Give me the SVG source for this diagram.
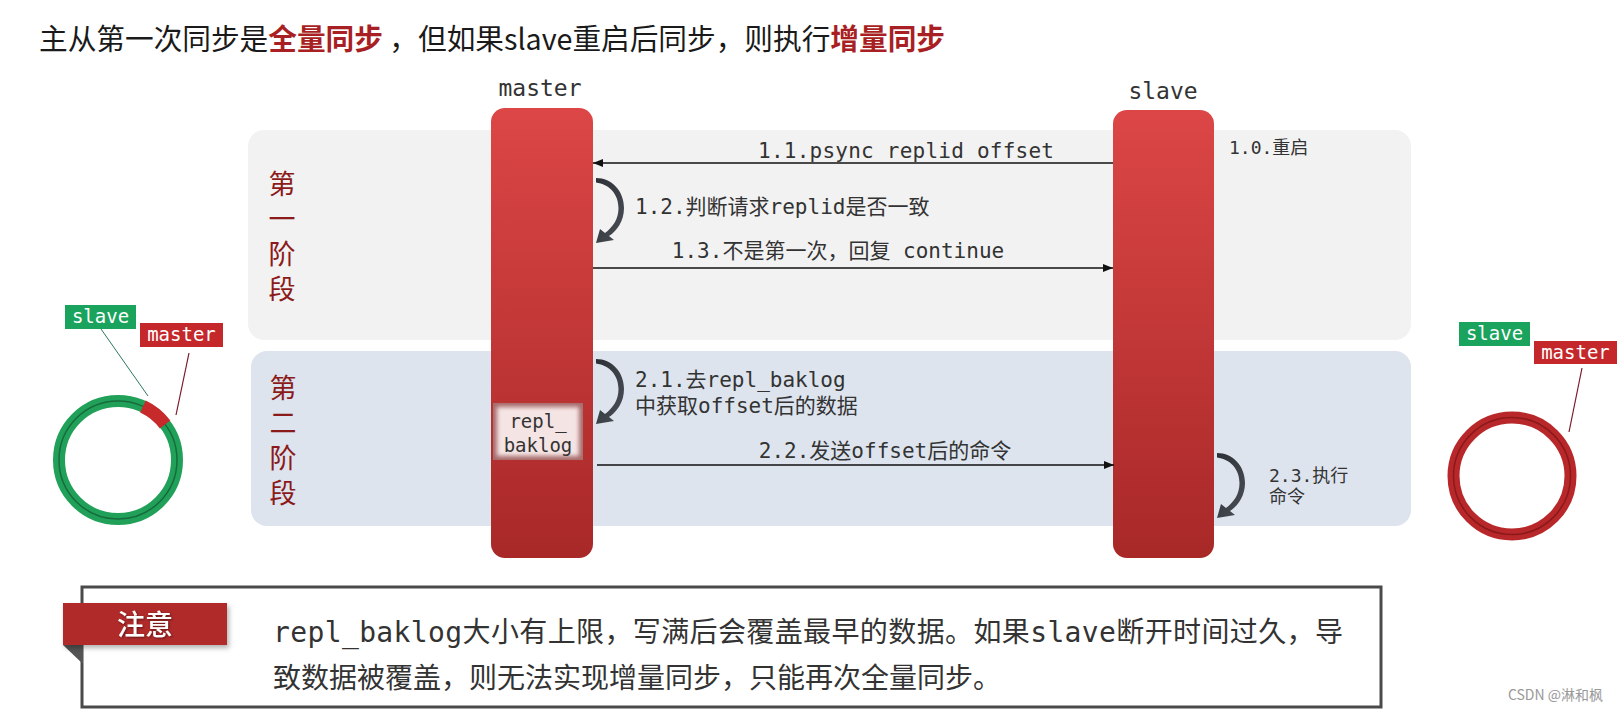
<svg xmlns="http://www.w3.org/2000/svg" width="1620" height="711" viewBox="0 0 1620 711">
<style>
.mono{font-family:"DejaVu Sans Mono","Noto Sans CJK SC",monospace;}
.cjk{font-family:"Noto Sans CJK SC","Noto Sans",sans-serif;}
.lbl{font-size:21px;fill:#333;}
.sm{font-size:18px;fill:#333;}
.phase{font-size:27px;fill:#8b1a1a;letter-spacing:8px;}
.tag{font-size:19px;fill:#fff;text-anchor:middle;}
.ln{stroke:#111;stroke-width:1.3;fill:none;}
</style>
<defs>
<linearGradient id="bar" x1="0" y1="0" x2="0" y2="1">
<stop offset="0" stop-color="#dc4646"/>
<stop offset="1" stop-color="#a82828"/>
</linearGradient>
<linearGradient id="curlg" x1="0" y1="0" x2="1" y2="1">
<stop offset="0" stop-color="#2c3036"/>
<stop offset="1" stop-color="#4b5057"/>
</linearGradient>
<marker id="ah" markerWidth="11" markerHeight="9" refX="10" refY="4" orient="auto" markerUnits="userSpaceOnUse">
<path d="M0,0 L10,4 L0,8 z" fill="#111"/>
</marker>
<path id="curl" d="M0,1 C16,1 28,14 28,31 C28,44 21,54 13,59 L18,63 L0,66 L4,52 L9,56 C17,50 22.5,42 22.5,31 C22.5,17 13,7 0,5.5 Z" fill="url(#curlg)"/>
<filter id="blur" x="-20%" y="-20%" width="140%" height="140%"><feGaussianBlur stdDeviation="2.2"/></filter>
<filter id="sh" x="-10%" y="-20%" width="130%" height="160%"><feDropShadow dx="2" dy="3" stdDeviation="2.5" flood-color="#000" flood-opacity="0.3"/></filter>
<filter id="tsh" x="-10%" y="-20%" width="130%" height="150%"><feDropShadow dx="1" dy="1" stdDeviation="0.8" flood-color="#000" flood-opacity="0.5"/></filter>
</defs>

<g id="title">
<text x="39" y="50" class="cjk" font-size="29" fill="#1a1a1a" textLength="906" lengthAdjust="spacingAndGlyphs">主从第一次同步是<tspan fill="#a81f24" font-weight="bold">全量同步</tspan> ，但如果slave重启后同步，则执行<tspan fill="#a81f24" font-weight="bold">增量同步</tspan></text>
</g>

<g id="phase1">
<rect x="248" y="130" width="1163" height="210" rx="16" fill="#f2f2f2"/>
<text class="cjk phase" x="282" y="170" writing-mode="vertical-rl">第一阶段</text>
</g>
<g id="phase2">
<rect x="251" y="351" width="1160" height="175" rx="16" fill="#dde4ee"/>
<text class="cjk phase" x="283" y="374" writing-mode="vertical-rl">第二阶段</text>
</g>

<g id="master">
<text class="mono" x="540" y="96" font-size="23" fill="#333" text-anchor="middle">master</text>
<rect x="491" y="108" width="102" height="450" rx="14" fill="url(#bar)"/>
</g>
<g id="slave">
<text class="mono" x="1163" y="99" font-size="23" fill="#333" text-anchor="middle">slave</text>
<rect x="1113" y="110" width="101" height="448" rx="14" fill="url(#bar)"/>
</g>

<g id="repl_baklog">
<rect x="493" y="403" width="90" height="57" fill="#a86c6c"/>
<rect x="497" y="407" width="82" height="49" fill="#f5e4e4" filter="url(#blur)"/>
<text class="mono" x="538" y="428" font-size="19" fill="#333" text-anchor="middle">repl_</text>
<text class="mono" x="538" y="452" font-size="19" fill="#333" text-anchor="middle">baklog</text>
</g>

<g id="connectors">
<path class="ln" d="M1113,163 L593,163" marker-end="url(#ah)"/>
<path class="ln" d="M593,268 L1113,268" marker-end="url(#ah)"/>
<path class="ln" d="M597,465 L1114,465" marker-end="url(#ah)"/>
<use href="#curl" x="596" y="177"/>
<use href="#curl" x="596" y="358"/>
<use href="#curl" x="1217" y="452"/>
</g>

<g id="labels">
<text class="mono lbl" x="906" y="158" text-anchor="middle" textLength="296">1.1.psync replid offset</text>
<text class="mono sm" x="1229" y="154">1.0.重启</text>
<text class="mono lbl" x="635" y="214">1.2.判断请求replid是否一致</text>
<text class="mono lbl" x="838" y="258" text-anchor="middle">1.3.不是第一次，回复 continue</text>
<text class="mono lbl" x="635" y="387">2.1.去repl_baklog</text>
<text class="mono lbl" x="635" y="413">中获取offset后的数据</text>
<text class="mono lbl" x="885" y="458" text-anchor="middle">2.2.发送offset后的命令</text>
<text class="mono sm" x="1269" y="482">2.3.执行</text>
<text class="mono sm" x="1269" y="503">命令</text>
</g>

<g id="ring-left">
<circle cx="118" cy="460" r="59" fill="none" stroke="#20a058" stroke-width="12"/>
<circle cx="118" cy="460" r="59" fill="none" stroke="#176b3c" stroke-width="1.5"/>
<path d="M142.9,406.5 A59,59 0 0 1 165.1,424.5" fill="none" stroke="#c62a2a" stroke-width="13"/>
<line x1="101" y1="329" x2="148" y2="396" stroke="#2a7a5a" stroke-width="1"/>
<line x1="189" y1="353" x2="176" y2="415" stroke="#7a1a2a" stroke-width="1.2"/>
<rect x="65" y="305" width="71" height="24" fill="#1aa35d"/>
<text class="mono tag" x="100.5" y="323">slave</text>
<rect x="140" y="323" width="83" height="24" fill="#c4282a"/>
<text class="mono tag" x="181.5" y="341">master</text>
</g>

<g id="ring-right">
<circle cx="1512" cy="476" r="58.5" fill="none" stroke="#b8282a" stroke-width="12"/>
<circle cx="1512" cy="476" r="58.5" fill="none" stroke="#8a1a1a" stroke-width="1.5"/>
<line x1="1582" y1="368" x2="1569" y2="432" stroke="#7a1a2a" stroke-width="1.2"/>
<rect x="1459" y="322" width="71" height="24" fill="#1aa35d"/>
<text class="mono tag" x="1494.5" y="340">slave</text>
<rect x="1534" y="341" width="83" height="23" fill="#c4282a"/>
<text class="mono tag" x="1575.5" y="359">master</text>
</g>

<g id="note">
<rect x="82" y="587" width="1299" height="120" fill="#fff" stroke="#4a4a4a" stroke-width="3"/>
<path d="M63,645 L83,645 L83,664 Z" fill="#555"/>
<rect x="63" y="603" width="164" height="42" fill="#b02a2a" filter="url(#sh)"/>
<text class="cjk" x="145" y="635" font-size="28" font-weight="500" fill="#fff" text-anchor="middle" filter="url(#tsh)">注意</text>
<text class="mono" x="273" y="642" font-size="28" fill="#333" textLength="1070">repl_baklog大小有上限，写满后会覆盖最早的数据。如果slave断开时间过久，导</text>
<text class="mono" x="273" y="688" font-size="28" fill="#333" textLength="728">致数据被覆盖，则无法实现增量同步，只能再次全量同步。</text>
</g>

<g id="watermark">
<text class="cjk" x="1603" y="700" font-size="14" fill="#999" text-anchor="end">CSDN @淋和枫</text>
</g>
</svg>
